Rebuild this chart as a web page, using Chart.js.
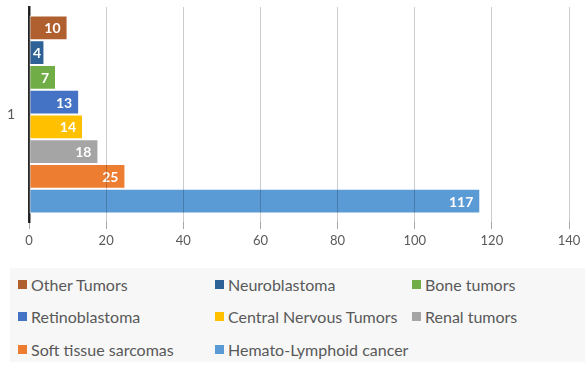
<!DOCTYPE html>
<html>
<head>
<meta charset="utf-8">
<script src="https://cdn.jsdelivr.net/npm/chart.js@4.4.1/dist/chart.umd.min.js"></script>
<style>
  body { margin: 0; background: #fff; font-family: Lato, "Open Sans", sans-serif; }
  #wrap { position: relative; width: 588px; height: 369px; }
  #chartBox { position: absolute; left: 0; top: 0; width: 588px; height: 258px; }
  #legend {
    position: absolute; left: 10px; top: 268px; width: 575px; height: 94px;
    background: #f7f7f7; box-sizing: border-box; padding: 0 0 0 8px;
    display: grid; grid-template-columns: 197px 197px 181px; grid-auto-rows: 32.5px;
  }
  .item { display: flex; align-items: center; font-size: 16px; color: #595959; white-space: nowrap; }
  .sw { width: 9px; height: 9px; margin-right: 4px; flex: none; }
</style>
</head>
<body>
<div id="wrap">
  <div id="chartBox"><canvas id="c"></canvas></div>
  <div id="legend"></div>
</div>
<script>
// category on the y axis
const categories = ["1"];

// series, top bar first (same order as the legend)
const seriesNames = [
  "Other Tumors", "Neuroblastoma", "Bone tumors", "Retinoblastoma",
  "Central Nervous Tumors", "Renal tumors", "Soft tissue sarcomas", "Hemato-Lymphoid cancer"
];
const seriesValues = [10, 4, 7, 13, 14, 18, 25, 117];
const seriesColors = [
  "#b0602e", "#2e6196", "#70ad47", "#4472c4",
  "#ffc000", "#a5a5a5", "#ed7d31", "#5b9bd5"
];

// x axis ticks
const xTicks = [0, 20, 40, 60, 80, 100, 120, 140];

// white value labels at the inner end of each bar
const barLabels = {
  id: "barLabels",
  afterDatasetsDraw(chart) {
    const ctx = chart.ctx;
    const left = chart.chartArea.left;
    ctx.save();
    ctx.font = "bold 14px Lato, 'Open Sans', sans-serif";
    ctx.fillStyle = "#ffffff";
    ctx.textAlign = "right";
    ctx.textBaseline = "middle";
    chart.data.datasets.forEach((ds, i) => {
      chart.getDatasetMeta(i).data.forEach((bar, j) => {
        const txt = String(ds.data[j]);
        const w = ctx.measureText(txt).width;
        const x = Math.max(bar.x - 7, left + 4 + w);
        ctx.fillText(txt, x, bar.y + 1);
      });
    });
    ctx.restore();
  }
};

const datasets = seriesNames.map((name, i) => ({
  label: name,
  data: [seriesValues[i]],
  backgroundColor: seriesColors[i],
  borderColor: "#ffffff",
  borderWidth: 1,
  borderSkipped: false
}));

const chart = new Chart(document.getElementById("c"), {
  type: "bar",
  data: { labels: categories, datasets: datasets },
  options: {
    indexAxis: "y",
    responsive: true,
    maintainAspectRatio: false,
    animation: false,
    barPercentage: 1.0,
    categoryPercentage: 0.92,
    layout: { padding: { top: 7, right: 19, bottom: 3, left: 0 } },
    plugins: {
      legend: { display: false },
      tooltip: { enabled: false }
    },
    scales: {
      x: {
        min: xTicks[0],
        max: xTicks[xTicks.length - 1],
        afterBuildTicks: (scale) => { scale.ticks = xTicks.map((v) => ({ value: v })); },
        afterFit: (scale) => { scale.height = 33; },
        grid: {
          z: 1,
          color: "rgba(0,0,0,0.2)",
          tickColor: "rgba(0,0,0,0.35)",
          tickLength: 7
        },
        border: { display: false },
        ticks: {
          color: "#595959",
          padding: 4,
          font: { size: 13, family: "Lato, 'Open Sans', sans-serif" }
        }
      },
      y: {
        afterFit: (scale) => {
          scale.width = 29;
          scale.paddingTop = 0;
          scale.paddingBottom = 0;
        },
        grid: { display: false },
        border: { display: true, color: "#262626", width: 2.5 },
        ticks: {
          color: "#595959",
          padding: 6,
          font: { size: 14, family: "Lato, 'Open Sans', sans-serif" }
        }
      }
    }
  },
  plugins: [barLabels]
});

// HTML legend in three columns, built from the datasets
const legendEl = document.getElementById("legend");
chart.data.datasets.forEach((ds) => {
  const item = document.createElement("div");
  item.className = "item";
  const sw = document.createElement("span");
  sw.className = "sw";
  sw.style.background = ds.backgroundColor;
  const txt = document.createElement("span");
  txt.textContent = ds.label;
  item.appendChild(sw);
  item.appendChild(txt);
  legendEl.appendChild(item);
});
</script>
</body>
</html>
